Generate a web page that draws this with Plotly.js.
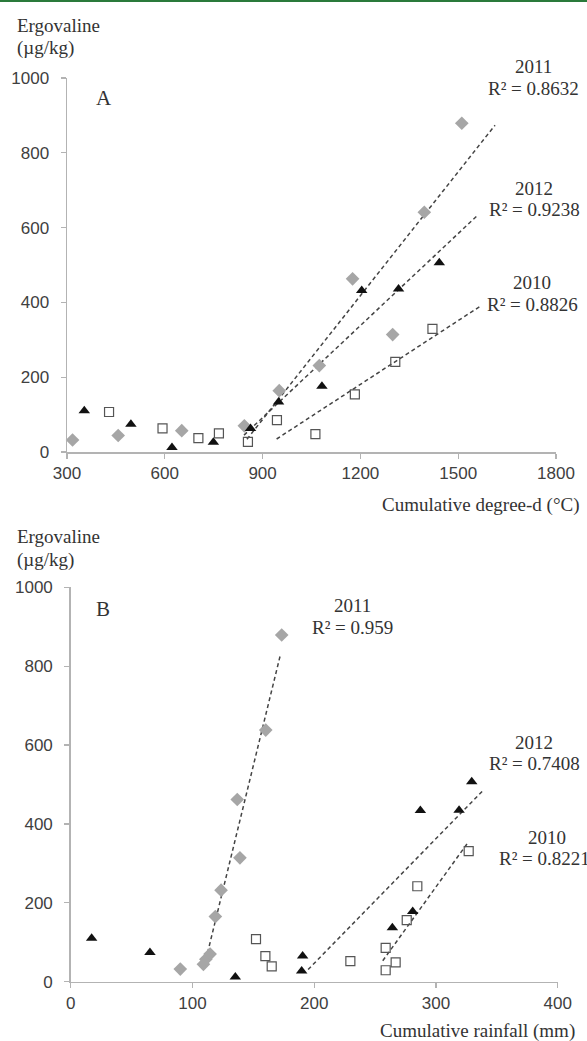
<!DOCTYPE html>
<html>
<head>
<meta charset="utf-8">
<script src="https://cdn.plot.ly/plotly-3.0.1.min.js"></script>
<style>html,body{margin:0;padding:0;background:#fff;}#chart{width:587px;height:1041px;}</style>
</head>
<body>
<div id="chart"></div>
<script>
// ---- Panel A: cumulative degree-days ----
const degX2011 = [317, 457, 652, 844, 951, 1074, 1176, 1299, 1396, 1511];
const degY2011 = [32, 44, 57, 70, 164, 231, 463, 314, 641, 879];
const degX2012 = [353, 496, 622, 749, 863, 949, 1082, 1204, 1317, 1442];
const degY2012 = [110, 74, 12, 26, 63, 134, 176, 432, 436, 506];
const degX2010 = [429, 593, 703, 766, 855, 944, 1062, 1183, 1307, 1421];
const degY2010 = [107, 63, 37, 50, 27, 85, 48, 154, 241, 329];
// trend fits: points with x >= fitStart, line drawn over lineX
const degFitStart = {y2011: 844, y2012: 863, y2010: 944};
const degLineX = {y2011: [852, 1613], y2012: [843, 1557], y2010: [943, 1567]};
const degR2 = {y2011: "0.8632", y2012: "0.9238", y2010: "0.8826"};

// ---- Panel B: cumulative rainfall ----
const rainX2011 = [90, 109, 111, 114.5, 118.8, 123.5, 136.8, 139, 160.2, 173.3];
const rainY2011 = [32, 44, 57, 70, 165, 232, 462, 314, 638, 879];
const rainX2012 = [17.2, 65.1, 135.2, 189.7, 190.5, 264.2, 280.9, 287.2, 319, 329.4];
const rainY2012 = [110, 74, 12, 27, 65, 137, 178, 434, 435, 507];
const rainX2010 = [152.2, 159.9, 165.1, 229.7, 258.7, 258.7, 266.9, 276, 284.7, 326.9];
const rainY2010 = [108, 65, 39, 52, 29, 86, 49, 156, 242, 331];
const rainFitStart = {y2011: 109, y2012: 189, y2010: 258};
const rainLineX = {y2011: [109.7, 171.9], y2012: [195, 339], y2010: [256.3, 326.6]};
const rainR2 = {y2011: "0.959", y2012: "0.7408", y2010: "0.8221"};

const degTicks = [300, 600, 900, 1200, 1500, 1800];
const rainTicks = [0, 100, 200, 300, 400];
const yTicks = [0, 200, 400, 600, 800, 1000];

function fitLine(xs, ys, start, lineX) {
  const px = [], py = [];
  xs.forEach((x, i) => { if (x >= start) { px.push(x); py.push(ys[i]); } });
  const n = px.length;
  const mx = px.reduce((a, b) => a + b, 0) / n;
  const my = py.reduce((a, b) => a + b, 0) / n;
  let sxy = 0, sxx = 0;
  for (let i = 0; i < n; i++) { sxy += (px[i] - mx) * (py[i] - my); sxx += (px[i] - mx) ** 2; }
  const b = sxy / sxx, a = my - b * mx;
  return {x: lineX, y: lineX.map(v => a + b * v)};
}

const W = 587, H = 1041;
const fx = p => p / W;
const fy = p => 1 - p / H;

const diamond = {symbol: 'diamond', size: 10.5, color: '#a6a6a6', line: {width: 0}};
const triangle = {symbol: 'triangle-up', size: 10, color: '#111111', line: {width: 0}};
const square = {symbol: 'square-open', size: 9, color: '#555555', line: {width: 1.2, color: '#555555'}};
const dashLine = {color: '#444444', width: 1.5, dash: '4px,3px'};

function pts(x, y, m, xa, ya) {
  return {x: x, y: y, type: 'scatter', mode: 'markers', marker: m, xaxis: xa, yaxis: ya, cliponaxis: false, hoverinfo: 'skip'};
}
function ln(f, xa, ya) {
  return {x: f.x, y: f.y, type: 'scatter', mode: 'lines', line: dashLine, xaxis: xa, yaxis: ya, cliponaxis: false, hoverinfo: 'skip'};
}

const traces = [
  ln(fitLine(degX2011, degY2011, degFitStart.y2011, degLineX.y2011), 'x', 'y'),
  ln(fitLine(degX2012, degY2012, degFitStart.y2012, degLineX.y2012), 'x', 'y'),
  ln(fitLine(degX2010, degY2010, degFitStart.y2010, degLineX.y2010), 'x', 'y'),
  pts(degX2011, degY2011, diamond, 'x', 'y'),
  pts(degX2012, degY2012, triangle, 'x', 'y'),
  pts(degX2010, degY2010, square, 'x', 'y'),
  ln(fitLine(rainX2011, rainY2011, rainFitStart.y2011, rainLineX.y2011), 'x2', 'y2'),
  ln(fitLine(rainX2012, rainY2012, rainFitStart.y2012, rainLineX.y2012), 'x2', 'y2'),
  ln(fitLine(rainX2010, rainY2010, rainFitStart.y2010, rainLineX.y2010), 'x2', 'y2'),
  pts(rainX2011, rainY2011, diamond, 'x2', 'y2'),
  pts(rainX2012, rainY2012, triangle, 'x2', 'y2'),
  pts(rainX2010, rainY2010, square, 'x2', 'y2')
];

const tickFont = {family: 'Liberation Sans, Arial, sans-serif', size: 17, color: '#404040'};
const axBase = {
  showgrid: false, zeroline: false, showline: true, linecolor: '#b3b3b3', linewidth: 1.5,
  ticks: 'outside', ticklen: 5, tickcolor: '#b3b3b3', tickwidth: 1.2,
  tickfont: tickFont, tickmode: 'array', fixedrange: true
};
const yExtra = {ticklabelstandoff: 8};

const serif = {family: 'Liberation Serif, Times New Roman, serif', size: 19, color: '#333333'};
function ann(text, px, py, xanchor, size) {
  const f = Object.assign({}, serif);
  if (size) f.size = size;
  return {text: text, x: fx(px), y: fy(py), xref: 'paper', yref: 'paper', xanchor: xanchor || 'center', yanchor: 'middle', showarrow: false, font: f};
}

const annotations = [
  ann('Ergovaline', 15, 25, 'left'),
  ann('(µg/kg)', 15, 48, 'left'),
  ann('A', 104, 98, 'center', 21),
  ann('2011', 533, 67), ann('R² = ' + degR2.y2011, 533, 88.5),
  ann('2012', 534, 188.5), ann('R² = ' + degR2.y2012, 534, 210),
  ann('2010', 532, 282), ann('R² = ' + degR2.y2010, 532, 304.5),
  ann('Cumulative degree-d (°C)', 582, 505, 'right'),
  ann('Ergovaline', 15, 537, 'left'),
  ann('(µg/kg)', 15, 560, 'left'),
  ann('B', 103, 608.5, 'center', 21),
  ann('2011', 352, 605), ann('R² = ' + rainR2.y2011, 352, 627),
  ann('2012', 534, 742), ann('R² = ' + rainR2.y2012, 534, 763.5),
  ann('2010', 547, 837), ann('R² = ' + rainR2.y2010, 497, 858.5, 'left'),
  ann('Cumulative rainfall (mm)', 577, 1031, 'right')
];

const layout = {
  width: W, height: H,
  margin: {l: 0, r: 0, t: 0, b: 0},
  paper_bgcolor: '#ffffff', plot_bgcolor: 'rgba(0,0,0,0)',
  showlegend: false,
  xaxis: Object.assign({}, axBase, {domain: [fx(67), fx(556)], range: [300, 1800], tickvals: degTicks, anchor: 'y'}),
  yaxis: Object.assign({}, axBase, yExtra, {domain: [fy(452), fy(78)], range: [0, 1000], tickvals: yTicks, anchor: 'x'}),
  xaxis2: Object.assign({}, axBase, {domain: [fx(70.7), fx(557.7)], range: [0, 400], tickvals: rainTicks, anchor: 'y2'}),
  yaxis2: Object.assign({}, axBase, yExtra, {domain: [fy(981.7), fy(587.3)], range: [0, 1000], tickvals: yTicks, anchor: 'x2'}),
  annotations: annotations,
  shapes: [
    {type: 'line', xref: 'paper', yref: 'paper', x0: 0, x1: 1, y0: fy(1), y1: fy(1), line: {color: '#2a7a3b', width: 2}}
  ]
};

Plotly.newPlot('chart', traces, layout, {displayModeBar: false, staticPlot: true});
</script>
</body>
</html>
